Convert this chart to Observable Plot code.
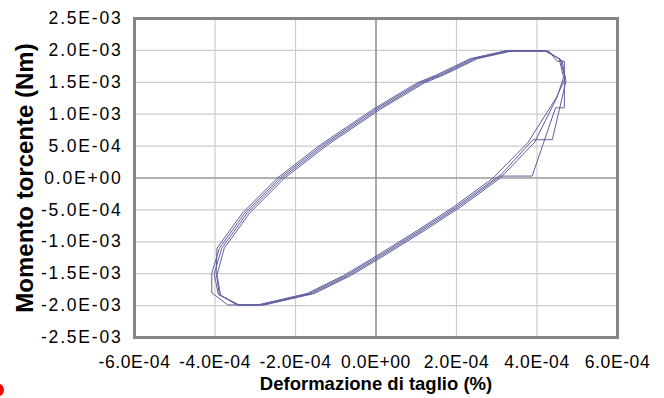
<!DOCTYPE html>
<html>
<head>
<meta charset="utf-8">
<script src="https://cdn.jsdelivr.net/npm/d3@7"></script>
<script src="https://cdn.jsdelivr.net/npm/@observablehq/plot@0.6"></script>
<style>
  html, body { margin: 0; padding: 0; background: #fff; }
  #wrap { position: relative; width: 664px; height: 398px; overflow: hidden; }
  #dot { position: absolute; left: -6px; top: 384px; width: 10px; height: 12px; border-radius: 50%; background: #f00; }
</style>
</head>
<body>
<div id="wrap"><div id="dot"></div></div>
<script>
// Units: x in 1E-04 (%), y in 1E-03 (Nm)
const xTicks = [-6, -4, -2, 0, 2, 4, 6];
const xTickLabels = ["-6.0E-04", "-4.0E-04", "-2.0E-04", "0.0E+00", "2.0E-04", "4.0E-04", "6.0E-04"];
const yTicks = [-2.5, -2, -1.5, -1, -0.5, 0, 0.5, 1, 1.5, 2, 2.5];
const yTickLabels = ["-2.5E-03", "-2.0E-03", "-1.5E-03", "-1.0E-03", "-5.0E-04", "0.0E+00", "5.0E-04", "1.0E-03", "1.5E-03", "2.0E-03", "2.5E-03"];
const xTitle = "Deformazione di taglio (%)";
const yTitle = "Momento torcente (Nm)";

const cycle1X = [3.19, 4.22, 4.58, 4.70, 4.48, 3.78, 2.91, 1.91, 1.01, -0.09, -0.81, -1.71, -2.95, -3.43, -3.89, -3.97, -3.95, -3.32, -2.45, -1.38, -0.09, 1.02, 1.52, 2.34, 3.19];
const cycle1Y = [1.99, 1.99, 1.86, 1.56, 1.26, 0.56, 0.00, -0.46, -0.83, -1.26, -1.53, -1.81, -1.99, -1.99, -1.83, -1.49, -1.10, -0.55, 0.00, 0.52, 1.07, 1.49, 1.62, 1.87, 1.99];
const cycle2X = [3.25, 4.29, 4.50, 4.68, 4.68, 4.46, 3.88, 3.05, 1.97, 1.07, -0.03, -0.75, -1.65, -2.89, -3.68, -4.08, -4.08, -3.89, -3.26, -2.39, -1.32, -0.03, 1.08, 1.58, 2.40, 3.25];
const cycle2Y = [1.99, 1.99, 1.83, 1.83, 1.10, 1.10, 0.03, 0.03, -0.46, -0.83, -1.26, -1.53, -1.81, -1.99, -1.99, -1.80, -1.49, -1.10, -0.55, 0.00, 0.52, 1.07, 1.49, 1.62, 1.87, 1.99];
const cycle3X = [3.31, 4.25, 4.62, 4.72, 4.38, 3.90, 3.03, 2.03, 1.13, 0.03, -0.69, -1.59, -2.83, -3.45, -3.92, -4.02, -3.83, -3.20, -2.33, -1.26, 0.03, 1.14, 1.64, 2.46, 3.31];
const cycle3Y = [1.99, 1.99, 1.84, 1.52, 0.60, 0.60, 0.00, -0.46, -0.83, -1.26, -1.53, -1.81, -1.99, -1.99, -1.82, -1.50, -1.10, -0.55, 0.00, 0.52, 1.07, 1.49, 1.62, 1.87, 1.99];
const cycle4X = [3.37, 4.20, 4.55, 4.66, 4.50, 3.94, 3.09, 2.09, 1.19, 0.09, -0.63, -1.53, -2.77, -3.40, -3.86, -3.95, -3.77, -3.14, -2.27, -1.20, 0.09, 1.20, 1.70, 2.52, 3.37];
const cycle4Y = [1.99, 1.99, 1.87, 1.58, 1.27, 0.56, 0.00, -0.46, -0.83, -1.26, -1.53, -1.81, -1.99, -1.99, -1.84, -1.52, -1.10, -0.55, 0.00, 0.52, 1.07, 1.49, 1.62, 1.87, 1.99];

const cycles = [[cycle1X, cycle1Y], [cycle2X, cycle2Y], [cycle3X, cycle3Y], [cycle4X, cycle4Y]];
const data = [];
cycles.forEach(([xs, ys]) => xs.forEach((x, i) => data.push({x, y: ys[i]})));

const gridColor = "#cccccc";
const axisColor = "#808080";
const lineColor = "#5f5f9f";

const chart = Plot.plot({
  width: 664,
  height: 398,
  marginLeft: 134,
  marginRight: 47,
  marginTop: 18,
  marginBottom: 61,
  style: { fontFamily: "'Liberation Sans', Arial, sans-serif", fontSize: "17.5px", color: "#000", background: "#fff", overflow: "visible" },
  x: { domain: [-6, 6], ticks: xTicks, tickFormat: d => xTickLabels[xTicks.indexOf(d)], tickSize: 0, tickPadding: 18, label: null },
  y: { domain: [-2.5, 2.5], ticks: yTicks, tickFormat: d => yTickLabels[yTicks.indexOf(d)], tickSize: 0, tickPadding: 12, label: null },
  marks: [
    Plot.ruleX(xTicks, { stroke: gridColor, strokeWidth: 1.2 }),
    Plot.ruleY(yTicks, { stroke: gridColor, strokeWidth: 1.2 }),
    Plot.ruleX([0], { stroke: axisColor, strokeWidth: 1.2 }),
    Plot.ruleY([0], { stroke: axisColor, strokeWidth: 1.2 }),
    Plot.line(data, { x: "x", y: "y", stroke: lineColor, strokeWidth: 1, curve: "linear" }),
    Plot.frame({ stroke: "#858585", strokeWidth: 3 }),
    Plot.text([xTitle], { frameAnchor: "bottom", dy: 47, fontWeight: "bold", fontSize: 18.5, textAnchor: "middle", lineAnchor: "middle", fill: "#000" }),
    Plot.text([yTitle], { frameAnchor: "left", dx: -109, rotate: -90, fontWeight: "bold", fontSize: 24, textAnchor: "middle", lineAnchor: "middle", fill: "#000" })
  ]
});
// widen tick label spacing slightly to match the reference's wide glyphs
d3.select(chart).selectAll('g[aria-label="y-axis tick label"] text, g[aria-label="y-axis"] text').style("letter-spacing", "1.8px");
d3.select(chart).selectAll('g[aria-label="x-axis tick label"] text, g[aria-label="x-axis"] text').style("letter-spacing", "0.6px");
document.getElementById("wrap").prepend(chart);
</script>
</body>
</html>
